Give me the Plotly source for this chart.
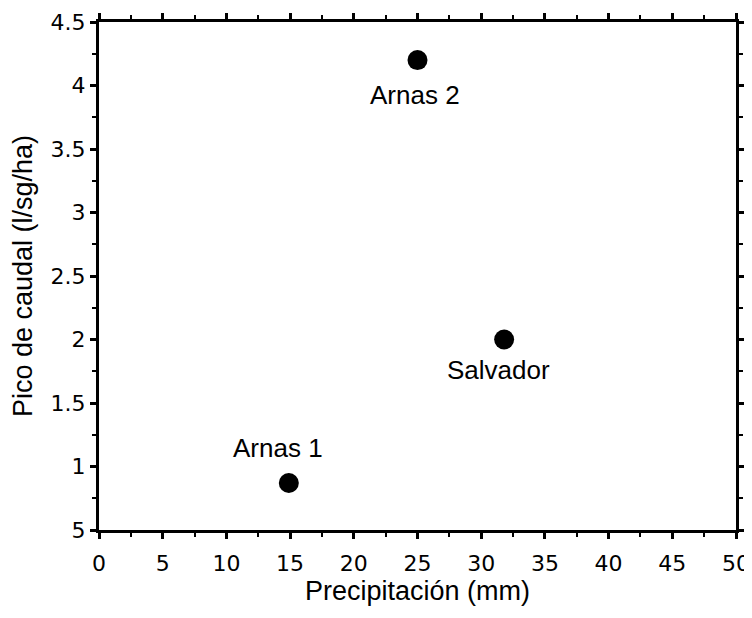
import plotly.graph_objects as go

sites = ["Arnas 2", "Salvador", "Arnas 1"]
precip = [25, 31.8, 14.9]
peak = [4.2, 2.0, 0.87]
# label offsets (pixels) relative to each point
label_dx = [-3, -6, -11]
label_dy = [-35, -30, 35]

x_ticks = [0, 5, 10, 15, 20, 25, 30, 35, 40, 45, 50]
y_ticks = [0.5, 1, 1.5, 2, 2.5, 3, 3.5, 4, 4.5]
y_ticktext = ["5", "1", "1.5", "2", "2.5", "3", "3.5", "4", "4.5"]

fig = go.Figure()
fig.add_trace(go.Scatter(
    x=precip, y=peak, mode="markers",
    marker=dict(size=20, color="black"),
    showlegend=False, cliponaxis=False, hoverinfo="skip",
))

for name, xv, yv, dx, dy in zip(sites, precip, peak, label_dx, label_dy):
    fig.add_annotation(
        x=xv, y=yv, text=name, showarrow=False,
        xanchor="center", yanchor="middle", xshift=dx, yshift=dy,
        font=dict(family="Liberation Sans, Arial", size=26, color="black"),
    )

tick_font = dict(family="DejaVu Sans", size=22, color="black")
title_font = dict(family="Liberation Sans, Arial", size=27, color="black")

axis_common = dict(
    showgrid=False, zeroline=False, showline=True, linecolor="black", linewidth=3,
    mirror="ticks", ticks="outside", ticklen=6, tickwidth=3, tickcolor="black",
    tickfont=tick_font, title_font=title_font, automargin=False,
    ticklabeloverflow="allow",
)

fig.update_xaxes(
    range=[0, 50], tickvals=x_ticks, ticktext=[str(v) for v in x_ticks],
    title_text="Precipitación (mm)", title_standoff=3, ticklabelstandoff=6,
    minor=dict(dtick=2.5, ticks="outside", ticklen=4, tickwidth=2, tickcolor="black"),
    **axis_common,
)
fig.update_yaxes(
    range=[0.5, 4.5], tickvals=y_ticks, ticktext=y_ticktext,
    title_text="Pico de caudal (l/sg/ha)", title_standoff=18,
    minor=dict(dtick=0.25, ticks="outside", ticklen=4, tickwidth=2, tickcolor="black"),
    **axis_common,
)

fig.update_layout(
    width=744, height=610,
    margin=dict(l=91, r=16, t=14, b=88),
    plot_bgcolor="white", paper_bgcolor="white",
)

fig.write_html("out.html")
